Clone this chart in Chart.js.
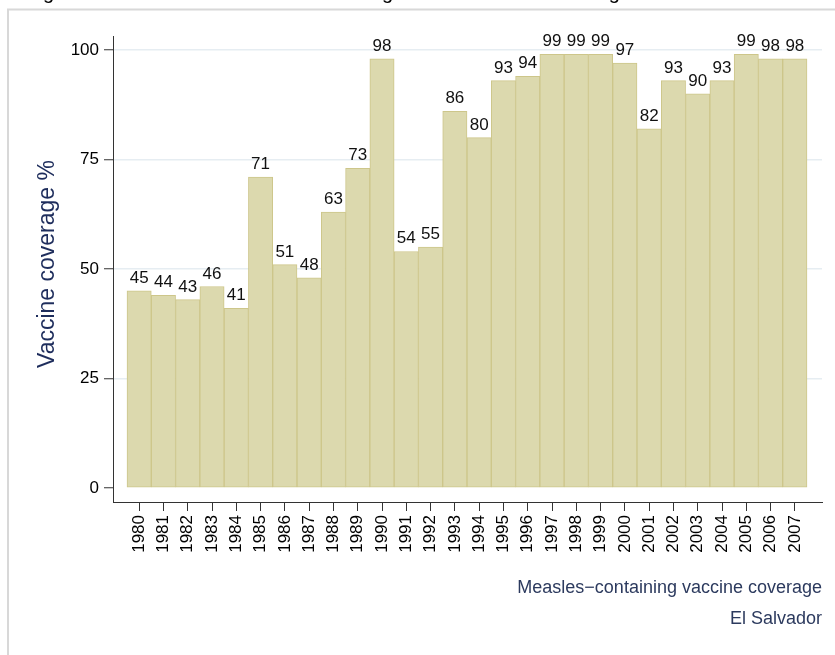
<!DOCTYPE html>
<html>
<head>
<meta charset="utf-8">
<script src="https://cdn.jsdelivr.net/npm/chart.js@4/dist/chart.umd.min.js"></script>
<style>
  html, body { margin: 0; padding: 0; background: #ffffff; }
  #wrap { width: 835px; height: 655px; }
</style>
</head>
<body>
<div id="wrap"><canvas id="c" width="835" height="655"></canvas></div>
<script>
// ---- data ----
const years = ['1980','1981','1982','1983','1984','1985','1986','1987','1988','1989',
               '1990','1991','1992','1993','1994','1995','1996','1997','1998','1999',
               '2000','2001','2002','2003','2004','2005','2006','2007'];
const coverage = [45,44,43,46,41,71,51,48,63,73,98,54,55,86,80,93,94,99,99,99,97,82,93,90,93,99,98,98];
const yTicks = [0,25,50,75,100];
const yAxisTitle = 'Vaccine coverage %';
const noteLines = ['Measles\u2212containing vaccine coverage', 'El Salvador'];
const chartTitle = 'High and stable measles vaccine coverage in El Salvador in the eighties and nineties';

const FONT = "'Liberation Sans', Arial, Helvetica, sans-serif";
Chart.defaults.font.family = FONT;

const decor = {
  id: 'decor',
  beforeDraw(chart) {
    const ctx = chart.ctx;
    ctx.save();
    ctx.fillStyle = '#ffffff';
    ctx.fillRect(0, 0, chart.width, chart.height);
    ctx.restore();
  },
  afterDatasetsDraw(chart) {
    const ctx = chart.ctx;
    const meta = chart.getDatasetMeta(0);
    ctx.save();
    ctx.font = '17px ' + FONT;
    ctx.fillStyle = '#111111';
    ctx.textAlign = 'center';
    ctx.textBaseline = 'alphabetic';
    meta.data.forEach((bar, i) => {
      ctx.fillText(String(coverage[i]), bar.x, bar.y - 8);
    });
    ctx.restore();
  },
  afterDraw(chart) {
    const ctx = chart.ctx;
    ctx.save();
    // outer frame
    ctx.strokeStyle = '#d8d8d8';
    ctx.lineWidth = 2;
    ctx.beginPath();
    ctx.moveTo(8, chart.height);
    ctx.lineTo(8, 9.5);
    ctx.lineTo(chart.width, 9.5);
    ctx.stroke();
    // title (mostly cut off above the page)
    ctx.font = '20px ' + FONT;
    ctx.fillStyle = '#000000';
    ctx.textAlign = 'left';
    ctx.textBaseline = 'alphabetic';
    ctx.fillText(chartTitle, 24, -1);
    // y axis title
    ctx.save();
    ctx.translate(48, 264);
    ctx.rotate(-Math.PI / 2);
    ctx.font = '23px ' + FONT;
    ctx.fillStyle = '#1e2d5c';
    ctx.textAlign = 'center';
    ctx.textBaseline = 'middle';
    ctx.fillText(yAxisTitle, 0, 0);
    ctx.restore();
    // notes
    ctx.font = '18px ' + FONT;
    ctx.fillStyle = '#2c3a5e';
    ctx.textAlign = 'right';
    ctx.textBaseline = 'alphabetic';
    ctx.fillText(noteLines[0], chart.chartArea.right, 593);
    ctx.fillText(noteLines[1], chart.chartArea.right, 624);
    ctx.restore();
  }
};

new Chart(document.getElementById('c'), {
  type: 'bar',
  data: {
    datasets: [{
      data: coverage.map((v, i) => ({ x: i, y: v })),
      backgroundColor: '#dcd9ae',
      borderColor: '#cdc68a',
      borderWidth: 1,
      borderSkipped: false,
      barPercentage: 1,
      categoryPercentage: 1
    }]
  },
  options: {
    responsive: false,
    animation: false,
    devicePixelRatio: 1,
    layout: { padding: { top: 36, right: 13, left: 0, bottom: 0 } },
    plugins: { legend: { display: false }, tooltip: { enabled: false } },
    scales: {
      x: {
        type: 'linear',
        offset: false,
        min: -1.0765,
        max: 28.1176,
        afterBuildTicks: s => { s.ticks = years.map((_, i) => ({ value: i })); },
        afterFit: s => { s.height = 153; },
        ticks: {
          autoSkip: false,
          minRotation: 90,
          maxRotation: 90,
          padding: 4,
          color: '#000000',
          font: { size: 17 },
          callback: v => years[v]
        },
        grid: {
          offset: false,
          drawOnChartArea: false,
          drawTicks: true,
          tickLength: 9,
          tickColor: '#333333',
          tickWidth: 1
        },
        border: { display: true, color: '#333333', width: 1 }
      },
      y: {
        type: 'linear',
        min: -3.196,
        max: 103.196,
        afterBuildTicks: s => { s.ticks = yTicks.map(v => ({ value: v })); },
        afterFit: s => { s.width = 113; },
        ticks: {
          padding: 5,
          color: '#000000',
          font: { size: 17 },
          callback: v => String(v)
        },
        grid: {
          color: c => (c.tick && c.tick.value === 0) ? 'rgba(0,0,0,0)' : '#e6edf2',
          lineWidth: 1.5,
          tickColor: '#333333',
          tickLength: 9,
          tickWidth: 1
        },
        border: { display: true, color: '#333333', width: 1 }
      }
    }
  },
  plugins: [decor]
});
</script>
</body>
</html>
